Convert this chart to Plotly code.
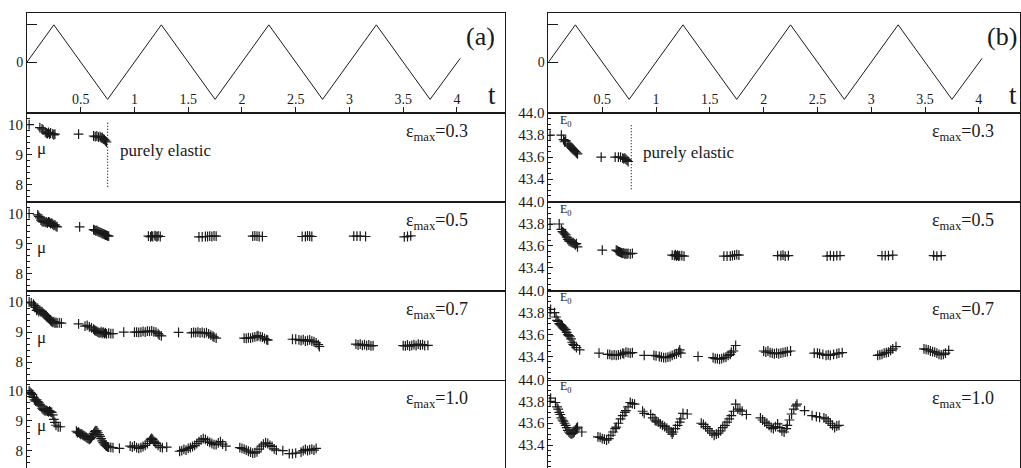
import plotly.graph_objects as go

# ---------------- data ----------------
# drive signal (triangle wave) vertices
drive_t = [0, 0.25, 0.75, 1.25, 1.75, 2.25, 2.75, 3.25, 3.75, 4.03]
drive_v = [0, 1, -1, 1, -1, 1, -1, 1, -1, 0.1]
t_ticks = [0.5, 1, 1.5, 2, 2.5, 3, 3.5, 4]
t_tick_labels = ["0.5", "1", "1.5", "2", "2.5", "3", "3.5", "4"]

eps_labels = ["0.3", "0.5", "0.7", "1.0"]

# (a) shear modulus mu
a03_t = [0.02, 0.12, 0.14, 0.15, 0.17, 0.18, 0.19, 0.2, 0.21, 0.22, 0.24, 0.25, 0.26, 0.48,
         0.62, 0.635, 0.65, 0.665, 0.68, 0.69, 0.70, 0.71, 0.72, 0.73, 0.74]
a03_mu = [10.0, 9.9, 9.86, 9.82, 9.76, 9.72, 9.7, 9.74, 9.68, 9.72, 9.69, 9.66, 9.68, 9.68,
          9.62, 9.6, 9.62, 9.58, 9.6, 9.56, 9.57, 9.52, 9.5, 9.46, 9.42]

a05_t = [0.02, 0.1, 0.11, 0.12, 0.13, 0.14, 0.15, 0.16, 0.17, 0.18, 0.19, 0.2, 0.21, 0.22, 0.23,
         0.24, 0.25, 0.26, 0.27, 0.28, 0.49,
         0.62, 0.63, 0.64, 0.65, 0.66, 0.67, 0.68, 0.69, 0.70, 0.71, 0.72, 0.73, 0.74, 0.75, 0.76,
         1.13, 1.15, 1.16, 1.17, 1.19, 1.2, 1.21, 1.22, 1.24,
         1.6, 1.63, 1.66, 1.68, 1.7, 1.72, 1.74, 1.76,
         2.1, 2.12, 2.14, 2.16, 2.19,
         2.56, 2.59, 2.61, 2.63, 2.65,
         3.04, 3.07, 3.1, 3.15,
         3.51, 3.54, 3.57]
a05_mu = [10.0, 9.95, 9.9, 9.85, 9.78, 9.74, 9.72, 9.74, 9.7, 9.72, 9.68, 9.72, 9.7, 9.66, 9.68,
          9.64, 9.6, 9.62, 9.57, 9.55, 9.55,
          9.46, 9.44, 9.42, 9.43, 9.4, 9.38, 9.37, 9.35, 9.33, 9.32, 9.3, 9.28, 9.27, 9.25, 9.24,
          9.24, 9.22, 9.25, 9.23, 9.26, 9.24, 9.22, 9.25, 9.23,
          9.22, 9.22, 9.23, 9.23, 9.24, 9.23, 9.25, 9.24,
          9.24, 9.25, 9.24, 9.23, 9.23,
          9.23, 9.23, 9.25, 9.24, 9.23,
          9.24, 9.24, 9.24, 9.23,
          9.22, 9.23, 9.25]

a07_t = [0.02, 0.04, 0.06, 0.07, 0.08, 0.09, 0.10, 0.11, 0.12, 0.13, 0.14, 0.15, 0.16, 0.17, 0.18,
         0.19, 0.2, 0.21, 0.22, 0.23, 0.24, 0.25, 0.26, 0.27, 0.28, 0.3, 0.32,
         0.48,
         0.54, 0.56, 0.58, 0.6, 0.62, 0.63, 0.64, 0.65, 0.66, 0.67, 0.68, 0.69, 0.70, 0.71, 0.72,
         0.73, 0.74, 0.76, 0.78, 0.8,
         0.9,
         1.0, 1.02, 1.04, 1.06, 1.08, 1.1, 1.12, 1.14, 1.16, 1.18, 1.2, 1.22, 1.23, 1.25,
         1.41,
         1.53, 1.55, 1.57, 1.59, 1.61, 1.63, 1.65, 1.67, 1.69, 1.71, 1.73, 1.74, 1.76,
         2.02, 2.04, 2.06, 2.08, 2.1, 2.12, 2.14, 2.15, 2.17, 2.19, 2.21, 2.23, 2.24,
         2.47, 2.5, 2.53, 2.55, 2.57, 2.59, 2.61, 2.63, 2.65, 2.67, 2.69, 2.71, 2.72,
         3.06, 3.08, 3.1, 3.12, 3.14, 3.16, 3.18, 3.2, 3.22,
         3.5, 3.52, 3.54, 3.56, 3.58, 3.6, 3.62, 3.64, 3.66, 3.68, 3.7, 3.73]
a07_mu = [10.0, 9.97, 9.93, 9.88, 9.82, 9.72, 9.75, 9.68, 9.72, 9.67, 9.68, 9.63, 9.6, 9.56, 9.55,
          9.5, 9.46, 9.42, 9.38, 9.35, 9.32, 9.35, 9.3, 9.32, 9.3, 9.31, 9.3,
          9.27,
          9.2, 9.22, 9.17, 9.14, 9.1, 9.06, 9.04, 9.02, 9.0, 8.98, 8.97, 9.01, 8.96, 9.0, 8.95,
          8.98, 8.94, 8.96, 8.95, 8.95,
          9.0,
          9.0, 9.0, 8.99, 9.0, 9.02, 9.0, 9.03, 9.02, 9.04, 9.01, 9.0, 8.95, 8.9, 8.87,
          8.99,
          8.97, 8.99, 8.98, 9.0, 8.97, 8.99, 8.96, 8.98, 8.94, 8.9, 8.86, 8.83, 8.8,
          8.8, 8.79, 8.81, 8.8, 8.82, 8.84, 8.86, 8.88, 8.85, 8.83, 8.78, 8.75, 8.73,
          8.76, 8.76, 8.74, 8.72, 8.75, 8.7, 8.72, 8.74, 8.7, 8.68, 8.64, 8.58, 8.52,
          8.6, 8.57, 8.6, 8.56, 8.58, 8.55, 8.57, 8.54, 8.55,
          8.55, 8.54, 8.57, 8.53, 8.56, 8.58, 8.55, 8.6, 8.57, 8.58, 8.55, 8.56]

a10_t = [0.02, 0.03, 0.04, 0.05, 0.06, 0.07, 0.08, 0.09, 0.1, 0.11, 0.12, 0.13, 0.14, 0.15, 0.16,
         0.17, 0.18, 0.19, 0.2, 0.21, 0.22, 0.23, 0.24, 0.25, 0.26, 0.27, 0.29, 0.31,
         0.46, 0.47, 0.48, 0.49, 0.5, 0.51, 0.52, 0.53, 0.54, 0.55, 0.56, 0.57, 0.58, 0.59, 0.6,
         0.61, 0.62, 0.63, 0.64, 0.65, 0.66, 0.67, 0.68, 0.69, 0.7, 0.71, 0.72, 0.73, 0.74, 0.75,
         0.76, 0.78, 0.8, 0.86,
         0.96, 0.98, 1.0, 1.02, 1.04, 1.06, 1.08, 1.1, 1.12, 1.14, 1.15, 1.16, 1.17, 1.18, 1.19,
         1.2, 1.22, 1.24, 1.26, 1.3,
         1.42, 1.44, 1.46, 1.48, 1.5, 1.52, 1.54, 1.56, 1.58, 1.6, 1.62, 1.64, 1.66, 1.68, 1.7,
         1.72, 1.74, 1.76, 1.78, 1.8, 1.82, 1.85,
         1.98, 2.0, 2.02, 2.04, 2.06, 2.08, 2.1, 2.12, 2.14, 2.16, 2.18, 2.2, 2.22, 2.24, 2.26,
         2.28, 2.3, 2.32,
         2.38, 2.44, 2.47, 2.5,
         2.55, 2.57, 2.59, 2.61, 2.63, 2.65, 2.67, 2.69]
a10_mu = [10.0, 9.95, 9.92, 9.88, 9.78, 9.7, 9.66, 9.7, 9.64, 9.6, 9.55, 9.5, 9.42, 9.38, 9.35,
          9.33, 9.35, 9.32, 9.3, 9.33, 9.3, 9.28, 9.2, 9.05, 8.95, 8.85, 8.8, 8.8,
          8.65, 8.6, 8.62, 8.58, 8.55, 8.56, 8.52, 8.5, 8.48, 8.45, 8.42, 8.4, 8.38, 8.4, 8.44,
          8.5, 8.58, 8.64, 8.67, 8.66, 8.6, 8.54, 8.48, 8.4, 8.33, 8.27, 8.22, 8.18, 8.15, 8.13,
          8.12, 8.11, 8.1, 8.08,
          8.15, 8.12, 8.16, 8.1, 8.08, 8.1, 8.14, 8.18, 8.24, 8.32, 8.38, 8.41, 8.38, 8.32, 8.28,
          8.24, 8.18, 8.12, 8.1, 8.12,
          7.98, 8.0, 8.04, 8.02, 8.08, 8.1, 8.14, 8.18, 8.24, 8.3, 8.36, 8.4, 8.38, 8.32, 8.28,
          8.24, 8.2, 8.2, 8.26, 8.3, 8.22, 8.15,
          8.1, 8.08, 8.05, 8.02, 7.98, 7.95, 7.92, 7.93, 7.96, 8.05, 8.15, 8.22, 8.26, 8.24, 8.18,
          8.14, 8.06, 8.02,
          8.0, 7.9, 7.9, 7.92,
          7.95, 8.0, 8.04, 8.0, 8.03, 8.05, 8.02, 8.08]

# (b) Young's modulus E0
b03_t = [0.015, 0.12, 0.14, 0.15, 0.16, 0.18, 0.19, 0.2, 0.21, 0.22, 0.23, 0.24, 0.25, 0.26, 0.27,
         0.49, 0.62, 0.65, 0.67, 0.69, 0.7, 0.71, 0.72, 0.73, 0.74]
b03_E = [43.8, 43.8, 43.76, 43.74, 43.75, 43.72, 43.71, 43.7, 43.69, 43.68, 43.67, 43.66, 43.65,
         43.64, 43.63, 43.6, 43.6, 43.6, 43.6, 43.59, 43.585, 43.59, 43.58, 43.57, 43.56]

b05_t = [0.015, 0.1, 0.12, 0.13, 0.14, 0.15, 0.16, 0.17, 0.18, 0.19, 0.2, 0.21, 0.22, 0.23, 0.24,
         0.25, 0.26, 0.27, 0.5,
         0.63, 0.64, 0.65, 0.66, 0.67, 0.68, 0.69, 0.7, 0.71, 0.72, 0.73, 0.74, 0.76, 0.78,
         1.15, 1.17, 1.18, 1.19, 1.2, 1.21, 1.22, 1.24, 1.26,
         1.63, 1.66, 1.69, 1.71, 1.73, 1.75, 1.77,
         2.13, 2.16, 2.18, 2.2, 2.23,
         2.59, 2.62, 2.65, 2.68, 2.71,
         3.1, 3.13, 3.16, 3.2,
         3.58, 3.61, 3.65]
b05_E = [43.8, 43.8, 43.75, 43.73, 43.72, 43.71, 43.7, 43.68, 43.66, 43.645, 43.64, 43.635, 43.63,
         43.63, 43.62, 43.61, 43.62, 43.59, 43.56,
         43.56, 43.555, 43.55, 43.545, 43.54, 43.535, 43.53, 43.535, 43.525, 43.53, 43.525, 43.53,
         43.525, 43.53,
         43.515, 43.51, 43.52, 43.505, 43.515, 43.505, 43.51, 43.51, 43.505,
         43.505, 43.505, 43.505, 43.51, 43.515, 43.52, 43.515,
         43.51, 43.51, 43.515, 43.505, 43.51,
         43.505, 43.51, 43.505, 43.51, 43.51,
         43.51, 43.51, 43.51, 43.515,
         43.51, 43.505, 43.51]

b07_t = [0.015, 0.02, 0.056, 0.07, 0.08, 0.09, 0.1, 0.11, 0.12, 0.13, 0.14, 0.15, 0.16, 0.17, 0.18,
         0.19, 0.2, 0.21, 0.22, 0.23, 0.24, 0.26, 0.29,
         0.47,
         0.55, 0.57, 0.59, 0.61, 0.63, 0.65, 0.67, 0.69, 0.7, 0.72, 0.74, 0.76, 0.78,
         0.89,
         0.98, 1.0, 1.03, 1.05, 1.07, 1.09, 1.11, 1.13, 1.15, 1.17, 1.19, 1.21, 1.22, 1.23,
         1.39,
         1.53, 1.55, 1.57, 1.59, 1.61, 1.63, 1.65, 1.67, 1.69, 1.7, 1.72, 1.74,
         2.0, 2.02, 2.04, 2.06, 2.08, 2.1, 2.12, 2.14, 2.16, 2.18, 2.2, 2.22, 2.25,
         2.47, 2.5, 2.52, 2.55, 2.58, 2.6, 2.62, 2.65, 2.68, 2.7, 2.73,
         3.06, 3.08, 3.1, 3.12, 3.14, 3.16, 3.18, 3.2, 3.23,
         3.49, 3.51, 3.53, 3.55, 3.57, 3.59, 3.61, 3.63, 3.65, 3.67, 3.69, 3.72]
b07_E = [43.8, 43.83, 43.8, 43.76, 43.73, 43.72, 43.7, 43.69, 43.68, 43.67, 43.66, 43.65, 43.645,
         43.62, 43.6, 43.59, 43.58, 43.56, 43.53, 43.51, 43.5, 43.48, 43.46,
         43.43,
         43.42, 43.42, 43.41, 43.415, 43.41, 43.415, 43.42, 43.43, 43.425, 43.44, 43.435, 43.43,
         43.435,
         43.41,
         43.41, 43.405, 43.4, 43.395, 43.39, 43.39, 43.395, 43.4, 43.41, 43.42, 43.425, 43.44,
         43.46, 43.43,
         43.4,
         43.39, 43.38, 43.38, 43.375, 43.38, 43.39, 43.395, 43.41, 43.42, 43.44, 43.45, 43.5,
         43.45, 43.44, 43.45, 43.435, 43.43, 43.425, 43.43, 43.425, 43.43, 43.435, 43.44, 43.445,
         43.45,
         43.43, 43.43, 43.425, 43.42, 43.41, 43.415, 43.41, 43.42, 43.425, 43.43, 43.435,
         43.41, 43.415, 43.42, 43.43, 43.435, 43.44, 43.455, 43.47, 43.49,
         43.47, 43.465, 43.46, 43.45, 43.445, 43.44, 43.43, 43.42, 43.415, 43.42, 43.43, 43.455]

b10_t = [0.015, 0.02, 0.065, 0.08, 0.09, 0.1, 0.11, 0.12, 0.13, 0.14, 0.15, 0.16, 0.17, 0.18,
         0.19, 0.2, 0.21, 0.22, 0.23, 0.24, 0.25, 0.26, 0.27, 0.31,
         0.46, 0.48, 0.5, 0.52, 0.54, 0.56, 0.58, 0.6, 0.62, 0.63, 0.65, 0.67, 0.69, 0.71, 0.72,
         0.74, 0.76, 0.78, 0.8,
         0.875, 0.89,
         0.95, 0.97, 0.99, 1.0, 1.02, 1.04, 1.06, 1.08, 1.1, 1.12, 1.14, 1.15, 1.16, 1.18, 1.2,
         1.22, 1.23, 1.25, 1.29,
         1.42, 1.44, 1.46, 1.48, 1.5, 1.52, 1.54, 1.56, 1.58, 1.6, 1.62, 1.64, 1.66, 1.68, 1.7,
         1.72, 1.74, 1.76, 1.78, 1.8, 1.84,
         1.97, 1.99, 2.01, 2.03, 2.05, 2.07, 2.09, 2.11, 2.13, 2.15, 2.17, 2.19, 2.21, 2.22, 2.24,
         2.26, 2.28, 2.3, 2.31,
         2.38, 2.45, 2.49, 2.52,
         2.56, 2.58, 2.6, 2.62, 2.64, 2.66, 2.68, 2.7]
b10_E = [43.8, 43.83, 43.79, 43.75, 43.73, 43.7, 43.68, 43.65, 43.63, 43.62, 43.6, 43.58, 43.56,
         43.535, 43.52, 43.51, 43.5, 43.505, 43.51, 43.52, 43.54, 43.555, 43.565, 43.52,
         43.475, 43.47, 43.46, 43.455, 43.445, 43.46, 43.49, 43.52, 43.55, 43.565, 43.6, 43.64,
         43.67, 43.7, 43.715, 43.75, 43.79, 43.78, 43.775,
         43.71, 43.69,
         43.68, 43.65, 43.63, 43.62, 43.61, 43.595, 43.58, 43.57, 43.555, 43.54, 43.52, 43.5,
         43.52, 43.55, 43.58, 43.61, 43.64, 43.69, 43.685,
         43.6, 43.59, 43.57, 43.55, 43.53, 43.51, 43.49, 43.5, 43.51, 43.53, 43.56, 43.58, 43.61,
         43.64, 43.67, 43.71, 43.775, 43.73, 43.72, 43.71, 43.68,
         43.65, 43.63, 43.61, 43.6, 43.58, 43.56, 43.55, 43.57, 43.595, 43.56, 43.53, 43.52,
         43.55, 43.58, 43.63, 43.685, 43.73, 43.76, 43.775,
         43.715, 43.67, 43.66, 43.655,
         43.65, 43.64, 43.62, 43.6, 43.58, 43.56, 43.575, 43.58]

# end of the purely elastic run (eps_max = 0.3)
elastic_t = [0.75, 0.77]
elastic_a = [10.06, 7.87]
elastic_b = [43.89, 43.29]

mu_ticks = [8, 9, 10]
E_ticks = [43.4, 43.6, 43.8, 44.0]

# ---------------- layout geometry ----------------
W, H = 1021, 468
COLS = [(27, 505), (549, 1021)]
PX_PER_T = [107.6, 107.7]
ROWS = [(5, 107), (107, 197.5), (197.5, 287.5), (287.5, 378), (378, 468)]
FONT = "Liberation Serif, Times New Roman, Times, DejaVu Serif, serif"
INK = "#1a1a1a"


def pxx(x):
    return x / W


def pxy(y):
    return 1 - y / H


fig = go.Figure()

a_sets = [(a03_t, a03_mu), (a05_t, a05_mu), (a07_t, a07_mu), (a10_t, a10_mu)]
b_sets = [(b03_t, b03_E), (b05_t, b05_E), (b07_t, b07_E), (b10_t, b10_E)]

layout_axes = {}
for c in range(2):
    x0, x1 = COLS[c]
    xr = [0, (x1 - x0) / PX_PER_T[c]]
    for r in range(5):
        k = c * 5 + r + 1
        xn = "x" if k == 1 else f"x{k}"
        yn = "y" if k == 1 else f"y{k}"
        ytop, ybot = ROWS[r]
        xa = dict(domain=[pxx(x0), min(1, pxx(x1))], range=xr, anchor=yn,
                  showgrid=False, zeroline=False, showline=(r != 4), mirror=True,
                  linecolor=INK, linewidth=1)
        ya = dict(domain=[pxy(ybot), pxy(ytop)], anchor=xn, showgrid=False,
                  zeroline=False, showline=True, mirror=True, linecolor=INK, linewidth=1,
                  tickfont=dict(family=FONT, size=15, color=INK), ticks="inside",
                  tickcolor=INK)
        if r == 0:
            fig.add_trace(go.Scatter(x=drive_t, y=drive_v, mode="lines",
                                     line=dict(color=INK, width=1), xaxis=xn, yaxis=yn,
                                     showlegend=False, hoverinfo="skip"))
            xa.update(tickvals=t_ticks, ticktext=t_tick_labels, ticks="inside", ticklen=6,
                      tickcolor=INK, ticklabelposition="inside",
                      tickfont=dict(family=FONT, size=14, color=INK))
            ya.update(range=[-1.37, 1.32], tickvals=[-1, 0, 1], ticktext=["", "0", ""],
                      ticklen=10, tickfont=dict(family=FONT, size=14, color=INK))
        else:
            xa.update(showticklabels=False, ticks="")
            if c == 0:
                tt, vv = a_sets[r - 1]
                ya.update(range=[7.42, 10.38], tickvals=mu_ticks,
                          ticktext=[str(v) for v in mu_ticks], ticklen=5,
                          minor=dict(tickmode="linear", tick0=7, dtick=0.2, ticks="inside",
                                     ticklen=3, tickcolor=INK))
            else:
                tt, vv = b_sets[r - 1]
                ya.update(range=[43.19, 44.0005], tickvals=E_ticks,
                          ticktext=[f"{v:.1f}" for v in E_ticks], ticklen=5,
                          minor=dict(tickmode="linear", tick0=43.0, dtick=0.05, ticks="inside",
                                     ticklen=3, tickcolor=INK))
            fig.add_trace(go.Scatter(x=tt, y=vv, mode="markers",
                                     marker=dict(symbol="cross-thin", size=7,
                                                 line=dict(color=INK, width=1.2)),
                                     xaxis=xn, yaxis=yn, showlegend=False, hoverinfo="skip"))
            if r == 1:
                et = elastic_t[c]
                ev = elastic_a if c == 0 else elastic_b
                fig.add_trace(go.Scatter(x=[et, et], y=ev, mode="lines",
                                         line=dict(color=INK, width=1.2, dash="1px,2px"),
                                         xaxis=xn, yaxis=yn, showlegend=False,
                                         hoverinfo="skip"))
        layout_axes["xaxis" if k == 1 else f"xaxis{k}"] = xa
        layout_axes["yaxis" if k == 1 else f"yaxis{k}"] = ya

annotations = []


def ann(text, x, y, size, xanchor="center", yanchor="middle"):
    annotations.append(dict(text=text, x=pxx(x), y=pxy(y), xref="paper", yref="paper",
                            showarrow=False, xanchor=xanchor, yanchor=yanchor,
                            font=dict(family=FONT, size=size, color=INK)))


ann("(a)", 481, 29, 26)
ann("(b)", 1003, 29, 26)
ann("t", 492, 89, 27)
ann("t", 1014, 89, 27)
for i, lab in enumerate(eps_labels):
    ytop = ROWS[i + 1][0]
    ann("ε<sub>max</sub>=" + lab, 437, ytop + 20, 18)
    ann("ε<sub>max</sub>=" + lab, 964, ytop + 20, 18)
    ann("E<sub>0</sub>", 559, ytop + 8, 12, xanchor="left")
mu_off = [36, 46, 48, 47]
for i in range(4):
    ann("μ", 42, ROWS[i + 1][0] + mu_off[i], 17)
ann("purely elastic", 118, 145, 17, xanchor="left")
ann("purely elastic", 642, 147, 17, xanchor="left")

fig.update_layout(width=W, height=H, margin=dict(l=0, r=0, t=0, b=0),
                  paper_bgcolor="white", plot_bgcolor="white", showlegend=False,
                  font=dict(family=FONT, color=INK),
                  annotations=annotations, **layout_axes)

fig.write_html("out.html")
